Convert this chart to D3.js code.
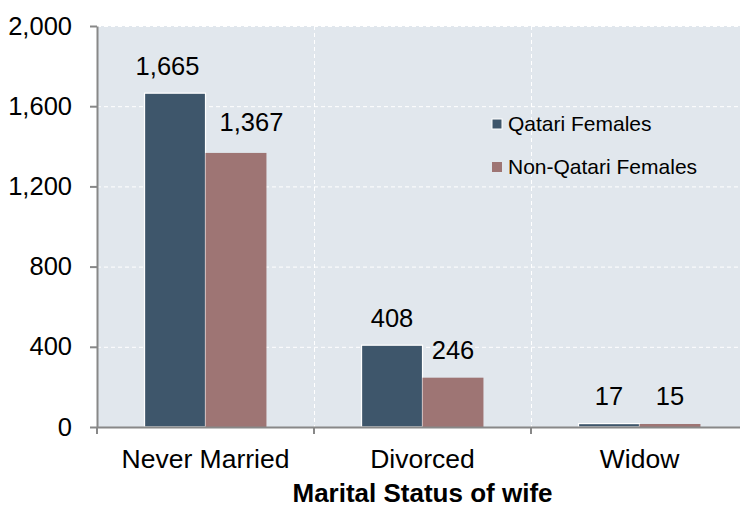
<!DOCTYPE html>
<meta charset="utf-8">
<style>
  body { margin: 0; background: #fff; }
  text { font-family: "Liberation Sans", Arial, sans-serif; fill: #000; }
  .grid line { stroke: #fff; stroke-dasharray: 4,3; stroke-width: 1; }
</style>
<body>
<svg width="740" height="508"></svg>
<script src="https://d3js.org/d3.v7.min.js"></script>
<script>

var categories = ["Never Married", "Divorced", "Widow"];
var seriesNames = ["Qatari Females", "Non-Qatari Females"];
var qatari = [1665, 408, 17];
var nonQatari = [1367, 246, 15];
var yTicks = [0, 400, 800, 1200, 1600, 2000];
var colors = ["#3e566b", "#9e7574"];

// hand nudges of the value labels (per category, per series), as in the original
var labelDx = [[-7.5, 15.5], [0, 0], [0, 0]];
var labelDy = [[0, 3], [0, 0], [0, 0]];

var svg = d3.select("svg");
var plotL = 97, plotR = 748, plotT = 26, plotB = 427;

var x = d3.scaleBand()
  .domain(categories)
  .range([plotL, plotR])
  .paddingInner(0)
  .paddingOuter(0);

var xs = d3.scaleBand()
  .domain(seriesNames)
  .range([0, x.bandwidth()])
  .paddingInner(0)
  .paddingOuter(0.78);

var y = d3.scaleLinear()
  .domain([0, 2000])
  .range([plotB, plotT]);

// plot background
svg.append("rect")
  .attr("x", plotL).attr("y", plotT)
  .attr("width", plotR - plotL).attr("height", plotB - plotT)
  .attr("fill", "#e1e7ed");

// gridlines
var grid = svg.append("g").attr("class", "grid");
grid.selectAll("line.h")
  .data(yTicks.filter(d => d > 0))
  .enter().append("line")
  .attr("x1", plotL).attr("x2", plotR)
  .attr("y1", d => y(d) + 0.5).attr("y2", d => y(d) + 0.5);
grid.selectAll("line.v")
  .data(categories.slice(1))
  .enter().append("line")
  .attr("x1", d => Math.round(x(d)) + 0.5).attr("x2", d => Math.round(x(d)) + 0.5)
  .attr("y1", plotT).attr("y2", plotB);

// bars
var rows = categories.map((c, i) => ({ cat: c, i: i, vals: [qatari[i], nonQatari[i]] }));
var groups = svg.selectAll("g.cat")
  .data(rows)
  .enter().append("g")
  .attr("class", "cat")
  .attr("transform", d => "translate(" + x(d.cat) + ",0)");

groups.selectAll("rect")
  .data(d => d.vals.map((v, j) => ({ v: v, s: seriesNames[j], j: j })))
  .enter().append("rect")
  .attr("x", d => xs(d.s))
  .attr("width", xs.bandwidth())
  .attr("y", d => y(d.v))
  .attr("height", d => y(0) - y(d.v))
  .attr("fill", d => colors[d.j])
  .attr("stroke", d => d.j === 0 ? "#fff" : "none")
  .attr("stroke-width", 1.2);

groups.selectAll("text")
  .data(d => d.vals.map((v, j) => ({ v: v, s: seriesNames[j], j: j, i: d.i })))
  .enter().append("text")
  .attr("x", d => xs(d.s) + xs.bandwidth() / 2 + labelDx[d.i][d.j])
  .attr("y", d => y(d.v) - 18.5 - labelDy[d.i][d.j])
  .attr("text-anchor", "middle")
  .style("font-size", "25.5px")
  .text(d => d3.format(",")(d.v));

// y axis
var yAxis = svg.append("g")
  .attr("transform", "translate(" + plotL + ",0)")
  .call(d3.axisLeft(y).tickValues(yTicks).tickFormat(d3.format(",")).tickSize(7).tickSizeOuter(0).tickPadding(18));
yAxis.select(".domain").attr("stroke", "#888").attr("stroke-width", 2);
yAxis.selectAll(".tick line").attr("stroke", "#888").attr("stroke-width", 2);
yAxis.selectAll("text").style("font-size", "25.5px").attr("fill", "#000").attr("font-family", null);

// x axis
var xAxis = svg.append("g")
  .attr("transform", "translate(0," + plotB + ")")
  .call(d3.axisBottom(x).tickSize(0).tickPadding(22));
xAxis.select(".domain").attr("stroke", "#888").attr("stroke-width", 2);
xAxis.selectAll("text").style("font-size", "26.5px").attr("fill", "#000").attr("font-family", null);
xAxis.selectAll("line.sep")
  .data(categories)
  .enter().append("line")
  .attr("class", "sep")
  .attr("x1", d => x(d)).attr("x2", d => x(d))
  .attr("y1", 0).attr("y2", 7)
  .attr("stroke", "#888").attr("stroke-width", 2);

// x title
svg.append("text")
  .attr("x", (plotL + plotR) / 2)
  .attr("y", 502)
  .attr("text-anchor", "middle")
  .style("font-size", "26px")
  .style("font-weight", "bold")
  .text("Marital Status of wife");

// legend
var legend = svg.selectAll("g.legend")
  .data(seriesNames)
  .enter().append("g")
  .attr("class", "legend")
  .attr("transform", (d, i) => "translate(492," + (119 + i * 43) + ")");
legend.append("rect")
  .attr("width", 10).attr("height", 10)
  .attr("fill", (d, i) => colors[i])
  .attr("stroke", (d, i) => i === 0 ? "#fff" : "none")
  .attr("stroke-width", 1);
legend.append("text")
  .attr("x", 16)
  .attr("y", 5)
  .attr("dy", "0.35em")
  .style("font-size", "21px")
  .text(d => d);

</script>
</body>
